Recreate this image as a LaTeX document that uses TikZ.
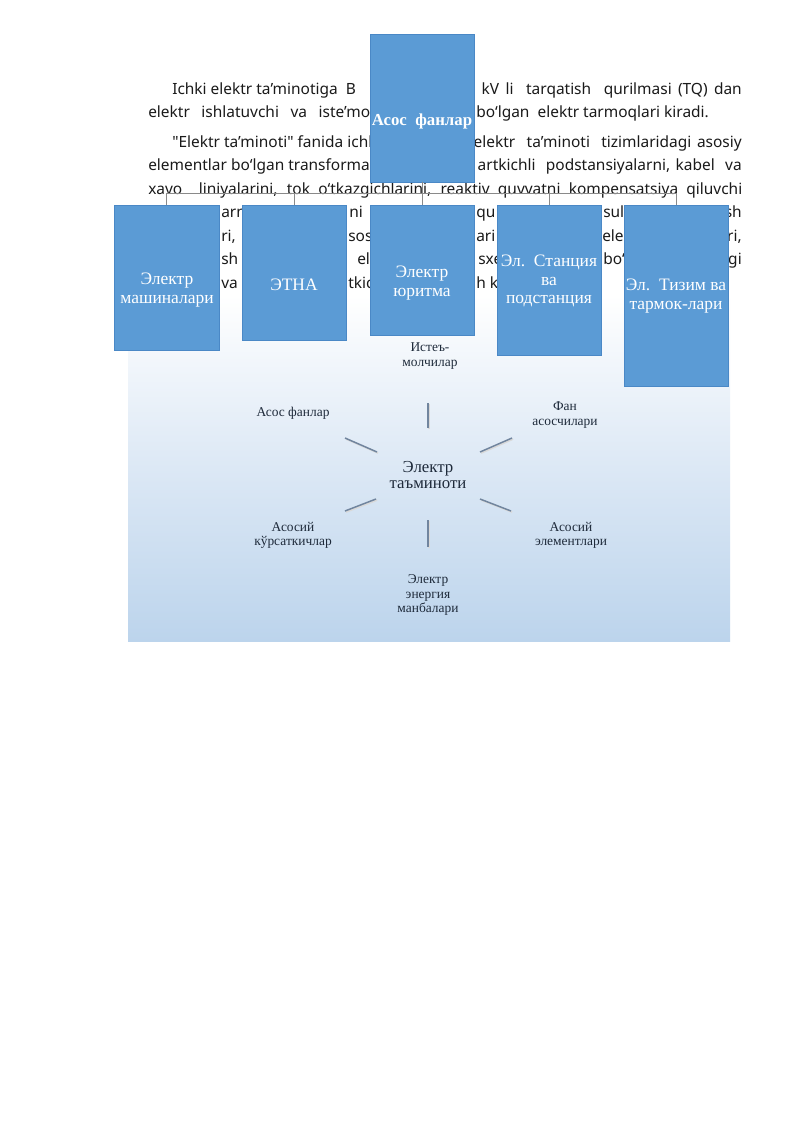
\documentclass[tikz,border=0pt]{standalone}
\usepackage{fontspec}
\setmainfont{Liberation Serif}
\newfontfamily\bodyfont{Noto Sans}
\usetikzlibrary{fit}
\newcommand\pxwd[1]{\dimexpr0.7441pt*#1\relax}
\definecolor{boxblue}{HTML}{5B9BD5}
\definecolor{boxedge}{HTML}{4A88C6}
\definecolor{startext}{HTML}{1E2A3A}
\definecolor{spoke}{HTML}{71859E}
\definecolor{paneltop}{HTML}{FFFFFF}
\definecolor{panelmid}{HTML}{DCE8F5}
\definecolor{panelbot}{HTML}{BCD4EC}
\definecolor{busline}{HTML}{8A8A8A}
\definecolor{bodytext}{HTML}{1A1A1A}
\begin{document}
\begin{tikzpicture}[x=0.7441pt,y=-0.7441pt,
  body/.style={inner sep=0pt, font=\bodyfont\fontsize{11.5}{13}\selectfont, text=bodytext},
  bw/.style={body, anchor=base west},
  be/.style={body, anchor=base east},
  bluebox/.style={draw=boxedge, line width=0.5pt, fill=boxblue, inner sep=0pt},
  boxlabel/.style={text=white, align=center, font=\fontsize{13}{14}\selectfont, inner sep=0pt},
  starlabel/.style={text=startext, align=center, font=\fontsize{10}{10.5}\selectfont, inner sep=0pt},
  spokeline/.style={draw=spoke, line width=1.1pt},
  spokeshadow/.style={draw=black!15, line width=1.2pt},
  busstyle/.style={draw=busline, line width=0.6pt},
]
\fill[white] (0,0) rectangle (800,1131);
\useasboundingbox (0,0) rectangle (800,1131);

% background panel
\shade[top color=paneltop, bottom color=panelbot, middle color=panelmid] (128,295) rectangle (730,641);

% paragraph text
\node[bw] (p1a) at (172,94) {Ichki elektr ta’minotiga\ \ B};
\node[be] (p1b) at (742,94) {\makebox[\pxwd{260}][s]{kV li\ \ tarqatish\ \ qurilmasi (TQ) dan}};
\node[bw] (p2a) at (148,117) {\makebox[\pxwd{222}][s]{elektr\ \ ishlatuvchi\ \ va\ \ iste’mo}};
\node[bw] (p2b) at (476,117) {bo‘lgan\ \ elektr tarmoqlari kiradi.};

\node[bw] (q1a) at (172,147) {"Elektr ta’minoti" fanida ichki};
\node[be] (q1b) at (742,147) {\makebox[\pxwd{268}][s]{elektr\ \ ta’minoti\ \ tizimlaridagi asosiy}};
\node[bw] (q2a) at (148,170.5) {elementlar bo‘lgan transformator};
\node[be] (q2b) at (742,170.5) {\makebox[\pxwd{264}][s]{artkichli\ \ podstansiyalarni, kabel\ \ va}};
\node[bw] (q3) at (148,194) {\makebox[\pxwd{594}][s]{xavo\ \ liniyalarini, tok o‘tkazgichlarini, reaktiv quvvatni kompensatsiya qiluvchi}};

\node[bw] (q4a) at (221,217.5) {arn};
\node[bw] (q4b) at (349,217.5) {ni};
\node[bw] (q4c) at (476,217.5) {qu};
\node[bw] (q4d) at (603,217.5) {sul};
\node[be] (q4e) at (742,217.5) {sh};

\node[bw] (q5a) at (221,241) {ri,};
\node[bw] (q5b) at (348,241) {sos};
\node[bw] (q5c) at (476,241) {ari};
\node[bw] (q5d) at (602,241) {elek};
\node[be] (q5e) at (742,241) {ri,};

\node[bw] (q6a) at (221,264.5) {sh};
\node[bw] (q6b) at (357,264.5) {el};
\node[bw] (q6c) at (478,264.5) {sxe};
\node[bw] (q6d) at (603,264.5) {bo‘l};
\node[be] (q6e) at (742,264.5) {gi};

\node[bw] (q7a) at (221,288) {va k};
\node[bw] (q7b) at (348,288) {tkic};
\node[bw] (q7c) at (476,288) {h k};

% org chart boxes
\node[bluebox, fit={(370,34) (474,182)}] (btop) {};
\node[bluebox, fit={(114,205) (219,350)}] (b1) {};
\node[bluebox, fit={(242,205) (346,340)}] (b2) {};
\node[bluebox, fit={(370,205) (474,335)}] (b3) {};
\node[bluebox, fit={(497,205) (601,355)}] (b4) {};
\node[bluebox, fit={(624,205) (728,386)}] (b5) {};

% connectors
\coordinate (bus) at (0,193);
\draw[busstyle] (btop.south) -- (btop.south |- bus);
\draw[busstyle] (b1.north |- bus) -- (b5.north |- bus);
\foreach \b in {b1,b2,b3,b4,b5} \draw[busstyle] (\b.north |- bus) -- (\b.north);

% box labels
\node[boxlabel, font=\bfseries\fontsize{12.5}{14}\selectfont] (ltop) at (422,121) {Асос\ \ фанлар};
\node[boxlabel] (l1) at (167,290) {Электр\\машиналари};
\node[boxlabel] (l2) at (294,285) {ЭТНА};
\node[boxlabel] (l3) at (422,283) {Электр\\юритма};
\node[boxlabel] (l4) at (549,281) {Эл.\ \ Станция\\ва\\подстанция};
\node[boxlabel] (l5) at (676,296) {Эл.\ \ Тизим ва\\тармок-лари};

% star diagram
\node[starlabel, font=\fontsize{12.5}{12.5}\selectfont] (c) at (428,475) {Электр\\таъминоти};
\node[starlabel] (s1) at (430,356) {Истеъ-\\молчилар};
\node[starlabel] (s2) at (293,413) {Асос фанлар};
\node[starlabel] (s3) at (565,415) {Фан\\асосчилари};
\node[starlabel] (s4) at (293,535) {Асосий\\кўрсаткичлар};
\node[starlabel] (s5) at (571,535) {Асосий\\элементлари};
\node[starlabel] (s6) at (428,595) {Электр\\энергия\\манбалари};

\coordinate (k1a) at (428,403); \coordinate (k1b) at (428,428);
\coordinate (k2a) at (345,438); \coordinate (k2b) at (377,452);
\coordinate (k3a) at (480,452); \coordinate (k3b) at (512,438);
\coordinate (k4a) at (345,511); \coordinate (k4b) at (376,499);
\coordinate (k5a) at (480,499); \coordinate (k5b) at (511,511);
\coordinate (k6a) at (428,520); \coordinate (k6b) at (428,547);
\foreach \k in {k1,k2,k3,k4,k5,k6} {
  \draw[spokeshadow] ([xshift=0.8pt,yshift=-0.8pt]\k a) -- ([xshift=0.8pt,yshift=-0.8pt]\k b);
  \draw[spokeline] (\k a) -- (\k b);
}
\end{tikzpicture}
\end{document}
